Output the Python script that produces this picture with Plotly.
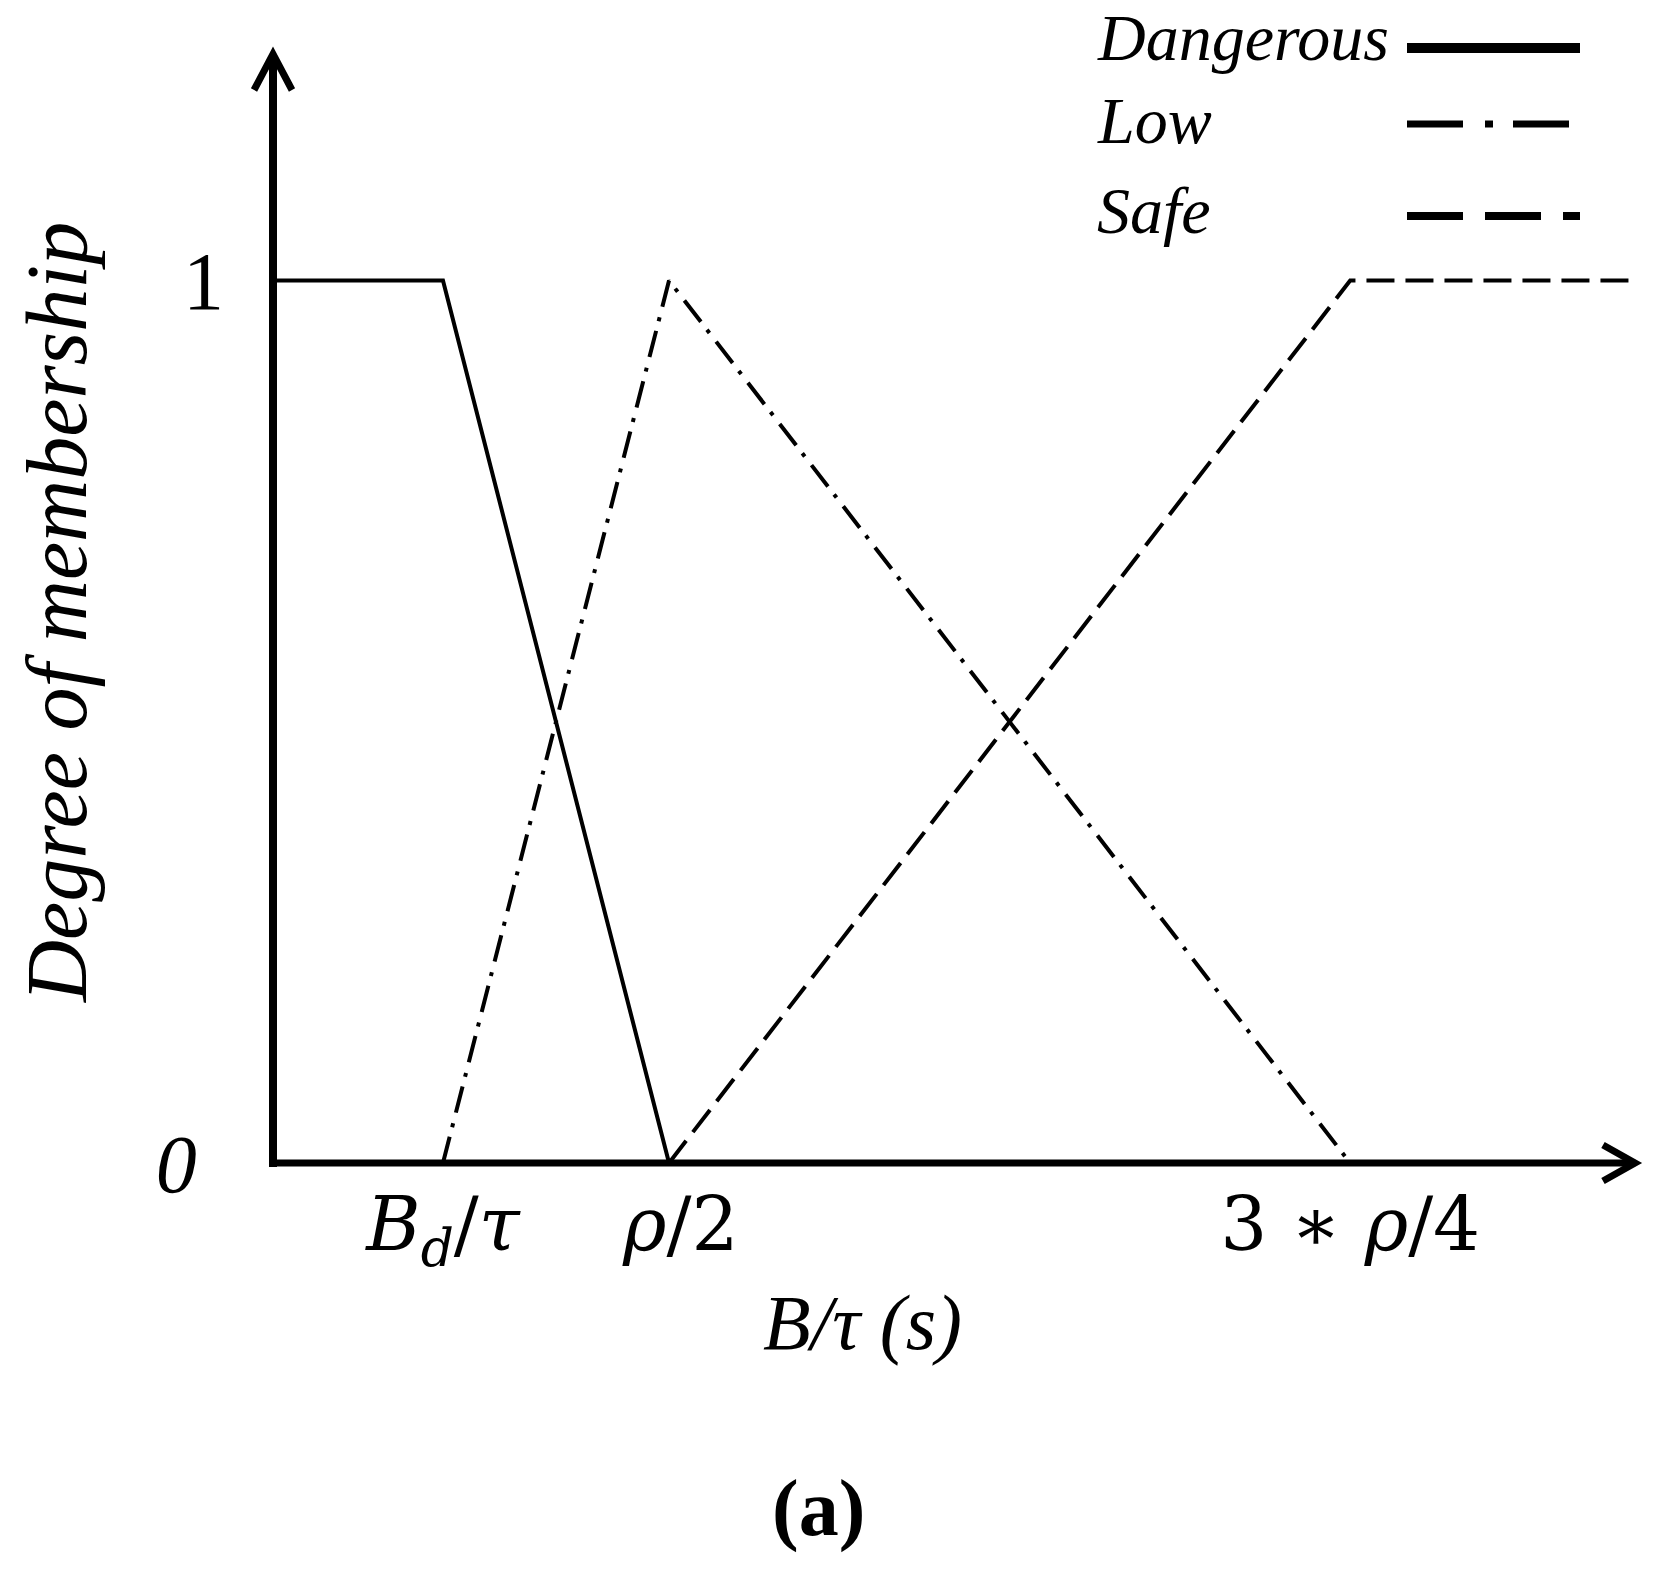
import plotly.graph_objects as go

# membership function breakpoints (x in arbitrary B/tau units)
dangerous_x = [0, 0.8, 1.864]
dangerous_y = [1, 1, 0]
low_x = [0.8, 1.864, 5.07]
low_y = [0, 1, 0]
safe_x = [1.864, 5.07, 6.414]
safe_y = [0, 1, 1]

x_tick_vals = [0.8, 1.864, 5.07]
x_tick_text = ["<i>B</i><sub><i>d</i></sub>/<i>τ</i>", "\u00a0<i>ρ</i>/2", "3 ∗ <i>ρ</i>/4"]
y_tick_vals = [0, 1]
y_tick_text = ["<i>0</i>\u00a0\u200a", "1"]

legend_names = ["Dangerous", "Low", "Safe"]

# the page body adds an 8px margin, so the figure is drawn 8px in from the corner
OFF = 8
FIG_W, FIG_H = 1666 - OFF, 1577 - OFF
# screen-pixel position of the plot area
L, R, T, B = 273, 1654, 60, 1163
W, H = R - L, B - T


def px(x):
    return (x - L) / W


def py(y):
    return (B - y) / H


SERIF = "Liberation Serif, Times New Roman, serif"
MATH = "DejaVu Serif, serif"

styles = {
    "Dangerous": dict(dash="solid", width=4),
    "Low": dict(dash="27px,10px,4px,11px", width=4),
    "Safe": dict(dash="28px,11px", width=4),
}
legend_styles = {
    "Dangerous": dict(dash="solid", width=10, y=48),
    "Low": dict(dash="56px,22px,8px,20px", width=7, y=124),
    "Safe": dict(dash="56px,22px", width=8, y=216),
}
legend_text_y = {"Dangerous": 37, "Low": 121, "Safe": 211}

fig = go.Figure()
for name, xs, ys in [
    ("Dangerous", dangerous_x, dangerous_y),
    ("Low", low_x, low_y),
    ("Safe", safe_x, safe_y),
]:
    st = styles[name]
    fig.add_trace(
        go.Scatter(
            x=xs,
            y=ys,
            name=name,
            mode="lines",
            line=dict(color="black", width=st["width"], dash=st["dash"]),
            hoverinfo="skip",
        )
    )

P = dict(xref="paper", yref="paper")
shapes = [
    # axes with open arrow heads
    dict(type="line", x0=px(273), y0=py(1167), x1=px(273), y1=py(55), line=dict(color="black", width=8), **P),
    dict(type="path", path=f"M {px(254)},{py(90)} L {px(273)},{py(54)} L {px(292)},{py(90)}",
         line=dict(color="black", width=7), **P),
    dict(type="line", x0=px(269), y0=py(1163), x1=px(1632), y1=py(1163), line=dict(color="black", width=7), **P),
    dict(type="path", path=f"M {px(1603)},{py(1145)} L {px(1635)},{py(1163)} L {px(1603)},{py(1181)}",
         line=dict(color="black", width=7), **P),
]
for name in legend_names:
    ls = legend_styles[name]
    shapes.append(
        dict(type="line", x0=px(1407), x1=px(1580), y0=py(ls["y"]), y1=py(ls["y"]),
             line=dict(color="black", width=ls["width"], dash=ls["dash"]), **P)
    )

annotations = []
for name in legend_names:
    annotations.append(
        dict(x=px(1095), y=py(legend_text_y[name]), text=f"<i>{name}</i>",
             showarrow=False, xanchor="left", yanchor="middle", font=dict(family=SERIF, size=66, color="black"), **P)
    )
annotations += [
    dict(x=px(862), y=py(1323), text="<i>B/τ (s)</i>", showarrow=False,
         xanchor="center", yanchor="middle", font=dict(family=SERIF, size=78, color="black"), **P),
    dict(x=px(57), y=py(613), text="<i>Degree of membership</i>", showarrow=False,
         textangle=-90, xanchor="center", yanchor="middle", font=dict(family=SERIF, size=86, color="black"), **P),
    dict(x=px(818), y=py(1508), text="<b>(a)</b>", showarrow=False,
         xanchor="center", yanchor="middle", font=dict(family=SERIF, size=80, color="black"), **P),
]

fig.update_layout(
    width=FIG_W,
    height=FIG_H,
    margin=dict(l=L - OFF, r=FIG_W - (R - OFF), t=T - OFF, b=FIG_H - (B - OFF), pad=0),
    paper_bgcolor="white",
    plot_bgcolor="white",
    showlegend=False,
    hovermode=False,
    shapes=shapes,
    annotations=annotations,
    font=dict(family=SERIF, color="black"),
)
fig.update_xaxes(
    range=[0, 6.5],
    showgrid=False,
    zeroline=False,
    showline=False,
    ticks="",
    tickmode="array",
    tickvals=x_tick_vals,
    ticktext=x_tick_text,
    tickfont=dict(family=MATH, size=74, color="black"),
    ticklabelstandoff=12,
)
fig.update_yaxes(
    range=[0, 1.25],
    showgrid=False,
    zeroline=False,
    showline=False,
    ticks="",
    tickmode="array",
    tickvals=y_tick_vals,
    ticktext=y_tick_text,
    tickfont=dict(family=SERIF, size=82, color="black"),
    ticklabelstandoff=48,
)

fig.write_html("out.html")
